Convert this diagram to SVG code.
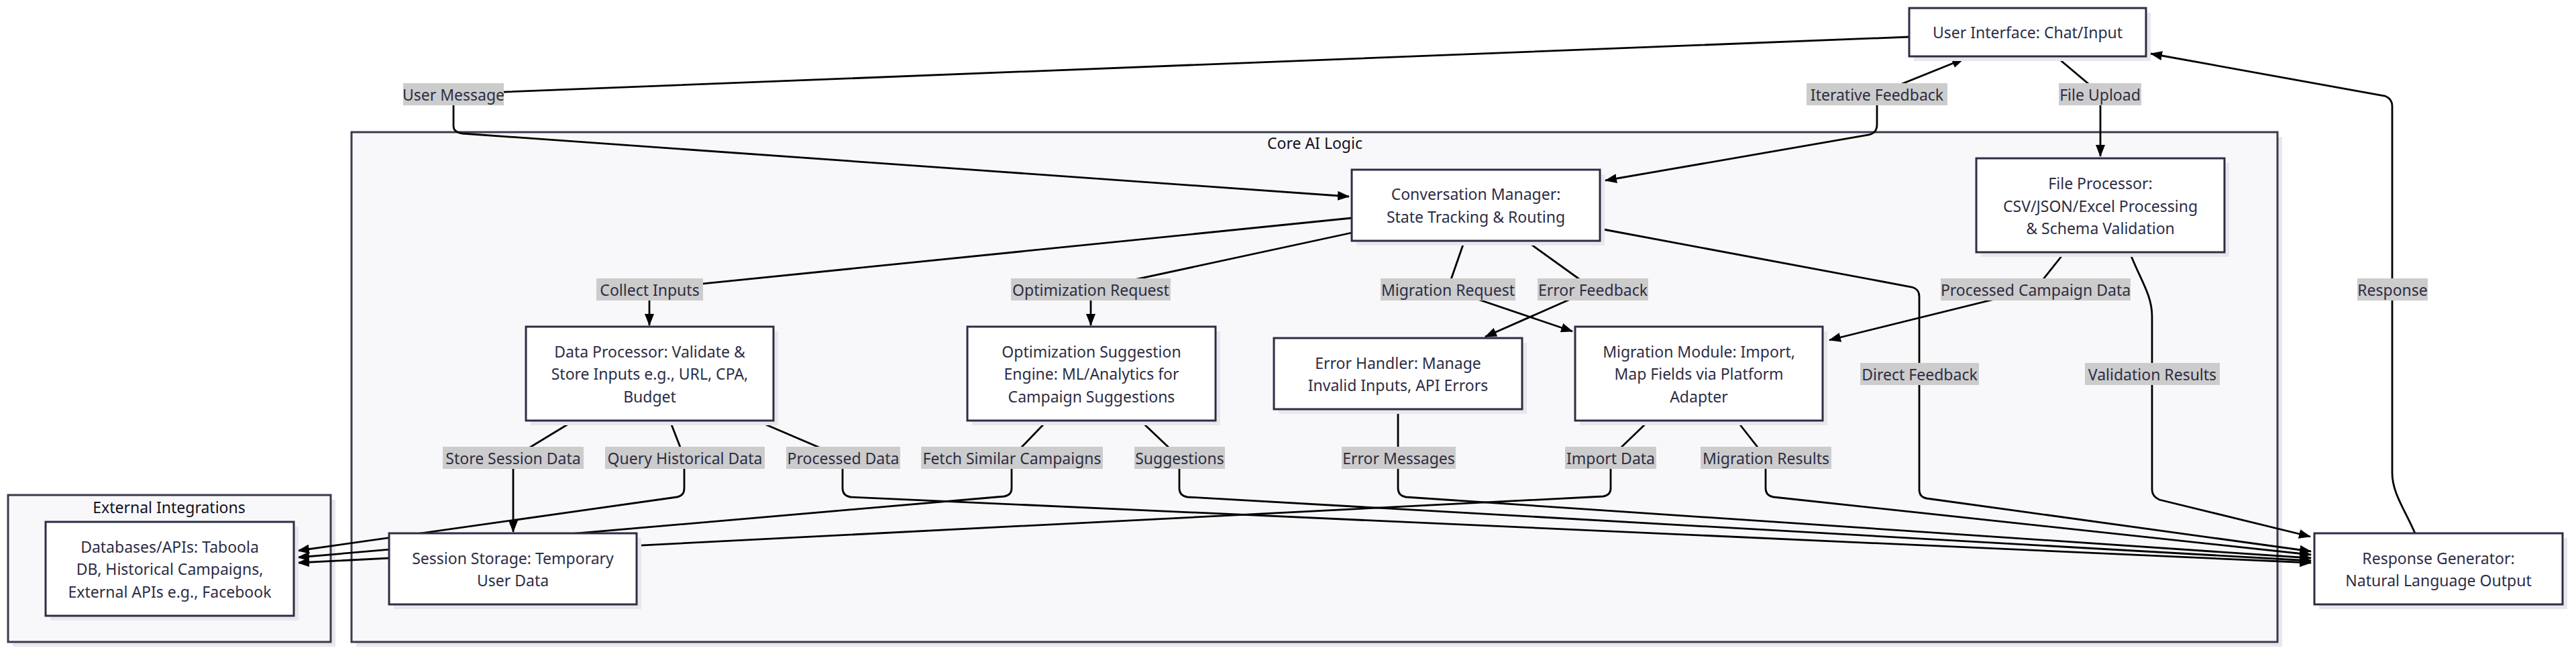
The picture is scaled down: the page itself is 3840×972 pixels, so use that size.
<svg xmlns="http://www.w3.org/2000/svg" width="3840" height="972" viewBox="0 0 3840 972">
<style>
.bg{fill:#ffffff}
.box{fill:#ffffff;stroke:#2d2d44;stroke-width:3}
.shadow{fill:#e8e8ec}
.cl{fill:#f8f8fa;stroke:#3a3a50;stroke-width:3}
.t{font-family:"Noto Sans","Open Sans",sans-serif;font-size:23px;fill:#2d2d44;text-anchor:middle;dominant-baseline:central}
.ct{font-family:"Noto Sans","Open Sans",sans-serif;font-size:23px;fill:#111122;text-anchor:middle;dominant-baseline:central}
.lb{fill:#cccccc}
.e{fill:none;stroke:#000;stroke-width:2.8;marker-end:url(#ah)}
</style>
<defs>
<marker id="ah" viewBox="0 0 18 14" refX="17" refY="7" markerWidth="18" markerHeight="14" markerUnits="userSpaceOnUse" orient="auto-start-reverse"><path d="M0,0 L18,7 L0,14 z" fill="#000"/></marker>
</defs>
<rect class="bg" x="0" y="0" width="3840" height="972"/>
<g id="clusters">
<g id="core-ai-logic">
<rect class="shadow" x="531" y="204" width="2871" height="760"/>
<rect class="cl" x="524" y="197" width="2871" height="760"/>
<text class="ct" x="1960" y="213">Core AI Logic</text>
</g>
<g id="external-integrations">
<rect class="shadow" x="19" y="745" width="481" height="219"/>
<rect class="cl" x="12" y="738" width="481" height="219"/>
<text class="ct" x="252" y="756">External Integrations</text>
</g>
</g>
<g id="edges">
<path class="e" d="M2846,55 L676,140 L676,188 Q676,197 689,199 L2011,293"/>
<path class="e" style="marker-start:url(#ah)" d="M2393,269 L2786,201 Q2798,198 2798,186 L2798,140 L2927,88"/>
<path class="e" d="M3067,86 L3131,140 L3131,233"/>
<path class="e" d="M2015,325 L968,431 L968,485"/>
<path class="e" d="M2015,347 L1626,431 L1626,485"/>
<path class="e" d="M2183,359 L2158,431 L2344,494"/>
<path class="e" d="M2275,359 L2375,431 L2214,502"/>
<path class="e" d="M2385,341 L2850,428 Q2861,431 2861,442 L2861,730 Q2861,741 2872,743 L3445,822"/>
<path class="e" d="M3077,377 L3034,431 L2727,507"/>
<path class="e" d="M3175,377 C3192,420 3208,440 3208,472 L3208,730 Q3208,740 3219,745 L3444,800"/>
<path class="e" d="M3600,795 C3585,760 3566,735 3566,705 L3566,158 Q3566,147 3555,143 L3206,80"/>
<path class="e" d="M854,628 L765,682 L765,793"/>
<path class="e" d="M999,628 L1020,682 L1020,728 Q1020,739 1009,741 L444,821"/>
<path class="e" d="M1130,628 L1256,682 L1256,728 Q1256,739 1268,741 L3445,839"/>
<path class="e" d="M1561,627 L1508,682 L1508,728 Q1508,738 1497,740 L444,831"/>
<path class="e" d="M1700,627 L1758,682 L1758,728 Q1758,739 1770,741 L3445,836"/>
<path class="e" d="M2084,610 L2084,728 Q2084,739 2096,741 L3445,832"/>
<path class="e" d="M2458,627 L2401,682 L2401,728 Q2401,738 2390,740 L444,839"/>
<path class="e" d="M2589,627 L2632,682 L2632,728 Q2632,739 2644,741 L3445,827"/>
</g>
<g id="edge-labels">
<rect class="lb" x="601" y="124" width="150" height="33"/><text class="t" x="676" y="140.5">User Message</text>
<rect class="lb" x="2693" y="124" width="210" height="33"/><text class="t" x="2798" y="140.5">Iterative Feedback</text>
<rect class="lb" x="3069" y="124" width="123" height="33"/><text class="t" x="3130.5" y="140.5">File Upload</text>
<rect class="lb" x="889" y="415" width="159" height="33"/><text class="t" x="968.5" y="431.5">Collect Inputs</text>
<rect class="lb" x="1507" y="415" width="238" height="33"/><text class="t" x="1626" y="431.5">Optimization Request</text>
<rect class="lb" x="2058" y="415" width="201" height="33"/><text class="t" x="2158.5" y="431.5">Migration Request</text>
<rect class="lb" x="2292" y="415" width="165" height="33"/><text class="t" x="2374.5" y="431.5">Error Feedback</text>
<rect class="lb" x="2893" y="415" width="283" height="33"/><text class="t" x="3034.5" y="431.5">Processed Campaign Data</text>
<rect class="lb" x="3514" y="415" width="105" height="33"/><text class="t" x="3566.5" y="431.5">Response</text>
<rect class="lb" x="2773" y="541" width="177" height="33"/><text class="t" x="2861.5" y="557.5">Direct Feedback</text>
<rect class="lb" x="3108" y="541" width="201" height="33"/><text class="t" x="3208.5" y="557.5">Validation Results</text>
<rect class="lb" x="660" y="666" width="210" height="33"/><text class="t" x="765" y="682.5">Store Session Data</text>
<rect class="lb" x="902" y="666" width="238" height="33"/><text class="t" x="1021" y="682.5">Query Historical Data</text>
<rect class="lb" x="1172" y="666" width="170" height="33"/><text class="t" x="1257" y="682.5">Processed Data</text>
<rect class="lb" x="1373" y="666" width="271" height="33"/><text class="t" x="1508.5" y="682.5">Fetch Similar Campaigns</text>
<rect class="lb" x="1691" y="666" width="135" height="33"/><text class="t" x="1758.5" y="682.5">Suggestions</text>
<rect class="lb" x="2000" y="666" width="170" height="33"/><text class="t" x="2085" y="682.5">Error Messages</text>
<rect class="lb" x="2333" y="666" width="136" height="33"/><text class="t" x="2401" y="682.5">Import Data</text>
<rect class="lb" x="2535" y="666" width="195" height="33"/><text class="t" x="2632.5" y="682.5">Migration Results</text>
</g>
<g id="node-ui">
<rect class="shadow" x="2853" y="19" width="353" height="72"/>
<rect class="box" x="2846" y="12" width="353" height="72"/>
<text class="t" x="3022.5" y="48">User Interface: Chat/Input</text>
</g>
<g id="node-cm">
<rect class="shadow" x="2022" y="260" width="370" height="106"/>
<rect class="box" x="2015" y="253" width="370" height="106"/>
<text class="t" x="2200" y="289">Conversation Manager:</text>
<text class="t" x="2200" y="323">State Tracking &amp; Routing</text>
</g>
<g id="node-fp">
<rect class="shadow" x="2953" y="243" width="370" height="140"/>
<rect class="box" x="2946" y="236" width="370" height="140"/>
<text class="t" x="3131" y="273">File Processor:</text>
<text class="t" x="3131" y="307">CSV/JSON/Excel Processing</text>
<text class="t" x="3131" y="340">&amp; Schema Validation</text>
</g>
<g id="node-dp">
<rect class="shadow" x="791" y="494" width="369" height="140"/>
<rect class="box" x="784" y="487" width="369" height="140"/>
<text class="t" x="968.5" y="524">Data Processor: Validate &amp;</text>
<text class="t" x="968.5" y="557">Store Inputs e.g., URL, CPA,</text>
<text class="t" x="968.5" y="591">Budget</text>
</g>
<g id="node-ose">
<rect class="shadow" x="1449" y="494" width="370" height="140"/>
<rect class="box" x="1442" y="487" width="370" height="140"/>
<text class="t" x="1627" y="524">Optimization Suggestion</text>
<text class="t" x="1627" y="557">Engine: ML/Analytics for</text>
<text class="t" x="1627" y="591">Campaign Suggestions</text>
</g>
<g id="node-eh">
<rect class="shadow" x="1906" y="511" width="370" height="106"/>
<rect class="box" x="1899" y="504" width="370" height="106"/>
<text class="t" x="2084" y="541">Error Handler: Manage</text>
<text class="t" x="2084" y="574">Invalid Inputs, API Errors</text>
</g>
<g id="node-mm">
<rect class="shadow" x="2355" y="494" width="369" height="140"/>
<rect class="box" x="2348" y="487" width="369" height="140"/>
<text class="t" x="2532.5" y="524">Migration Module: Import,</text>
<text class="t" x="2532.5" y="557">Map Fields via Platform</text>
<text class="t" x="2532.5" y="591">Adapter</text>
</g>
<g id="node-db">
<rect class="shadow" x="75" y="785" width="370" height="140"/>
<rect class="box" x="68" y="778" width="370" height="140"/>
<text class="t" x="253" y="815">Databases/APIs: Taboola</text>
<text class="t" x="253" y="848">DB, Historical Campaigns,</text>
<text class="t" x="253" y="882">External APIs e.g., Facebook</text>
</g>
<g id="node-ss">
<rect class="shadow" x="587" y="802" width="369" height="106"/>
<rect class="box" x="580" y="795" width="369" height="106"/>
<text class="t" x="764.5" y="832">Session Storage: Temporary</text>
<text class="t" x="764.5" y="865">User Data</text>
</g>
<g id="node-rg">
<rect class="shadow" x="3457" y="802" width="370" height="106"/>
<rect class="box" x="3450" y="795" width="370" height="106"/>
<text class="t" x="3635" y="832">Response Generator:</text>
<text class="t" x="3635" y="865">Natural Language Output</text>
</g>
</svg>
